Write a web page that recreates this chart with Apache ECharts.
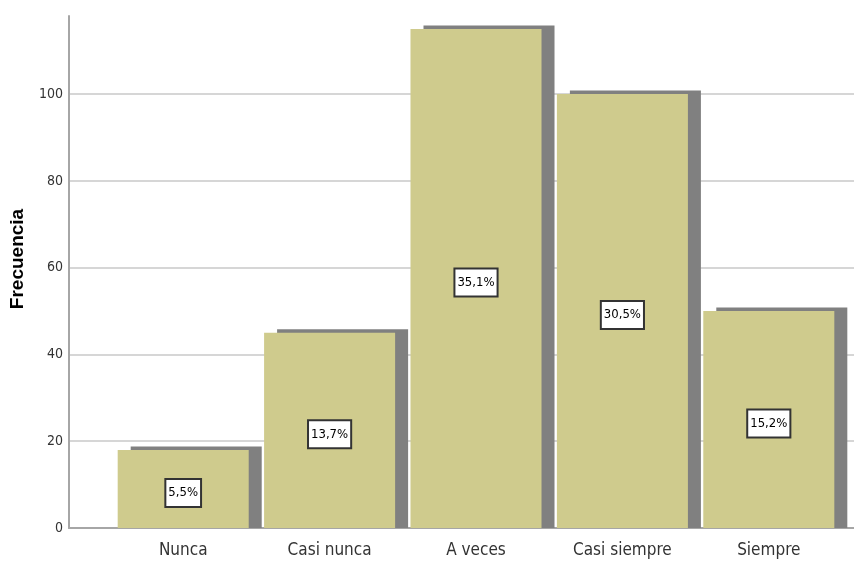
<!DOCTYPE html>
<html>
<head>
<meta charset="utf-8">
<script src="https://cdn.jsdelivr.net/npm/echarts@6/dist/echarts.min.js"></script>
<style>
  html, body { margin: 0; padding: 0; background: #fff; }
  #chart { width: 854px; height: 563px; }
</style>
</head>
<body>
<div id="chart"></div>
<script>
// Frequency per answer category
const categories = ['Nunca', 'Casi nunca', 'A veces', 'Casi siempre', 'Siempre'];
const frequencies = [18, 45, 115, 100, 50];
const yTicks = [0, 20, 40, 60, 80, 100];

const total = frequencies.reduce((a, b) => a + b, 0);
const percentLabels = frequencies.map(v => (v / total * 100).toFixed(1).replace('.', ',') + '%');

const narrow = "'Liberation Sans Narrow', 'DejaVu Sans Condensed', 'Liberation Sans', sans-serif";
const FACE = '#cfcb8d';
const SHADE = '#808080';

const chart = echarts.init(document.getElementById('chart'), null, { renderer: 'canvas' });

const option = {
  backgroundColor: '#ffffff',
  animation: false,
  grid: [
    // frame: value axis, gridlines, baseline
    { left: 69, right: 0, top: 16, bottom: 35 },
    // bars
    { left: 110, right: 12, top: 16, bottom: 35 }
  ],
  xAxis: [
    {
      gridIndex: 0, type: 'value', min: 0, max: 1,
      axisLine: { show: true, lineStyle: { color: '#a6a6a6', width: 2 } },
      axisTick: { show: false }, axisLabel: { show: false }, splitLine: { show: false }
    },
    {
      gridIndex: 1, type: 'category', data: categories, boundaryGap: true,
      axisLine: { show: false }, axisTick: { show: false },
      axisLabel: { color: '#333', fontSize: 17, fontFamily: narrow, margin: 14 }
    }
  ],
  yAxis: [
    {
      gridIndex: 0, type: 'value', min: 0, max: 118, interval: 20,
      name: 'Frecuencia', nameLocation: 'middle', nameGap: 42,
      nameTextStyle: {
        color: '#000', fontSize: 19, fontWeight: 'bold',
        fontFamily: "'Liberation Sans', Arial, sans-serif",
        padding: [0, 0, 0, 26]
      },
      axisLine: { show: true, lineStyle: { color: '#a6a6a6', width: 2 } },
      axisTick: { show: false },
      axisLabel: {
        color: '#333', fontSize: 14, fontFamily: narrow, margin: 6, showMaxLabel: false,
        formatter: v => (yTicks.includes(v) ? String(v) : '')
      },
      splitLine: { show: true, showMaxLine: false, showMinLine: false, lineStyle: { color: '#d6d6d6', width: 2 } }
    },
    {
      gridIndex: 1, type: 'value', min: 0, max: 118,
      axisLine: { show: false }, axisTick: { show: false }, axisLabel: { show: false }, splitLine: { show: false }
    }
  ],
  series: [
    {
      type: 'custom',
      xAxisIndex: 1, yAxisIndex: 1,
      data: frequencies.map((v, i) => [i, v]),
      renderItem: function (params, api) {
        const idx = api.value(0);
        const val = api.value(1);
        const top = api.coord([idx, val]);
        const base = api.coord([idx, 0]);
        const band = api.size([1, 0])[0];
        const w = band * 0.895;
        const x = top[0] - w / 2;
        const h = base[1] - top[1];
        const dx = 13, dy = 3.5;
        return {
          type: 'group',
          children: [
            { type: 'rect', shape: { x: x + dx, y: top[1] - dy, width: w, height: h + dy }, style: { fill: SHADE } },
            { type: 'rect', shape: { x: x, y: top[1], width: w, height: h }, style: { fill: FACE } },
            {
              type: 'text',
              style: {
                text: percentLabels[params.dataIndex],
                x: top[0], y: top[1] + h / 2 + 4,
                align: 'center', verticalAlign: 'middle',
                fill: '#000', fontSize: 13, fontFamily: narrow,
                backgroundColor: '#ffffff', borderColor: '#333', borderWidth: 2,
                padding: [7, 2, 6, 2]
              }
            }
          ]
        };
      }
    }
  ]
};

chart.setOption(option);
</script>
</body>
</html>
